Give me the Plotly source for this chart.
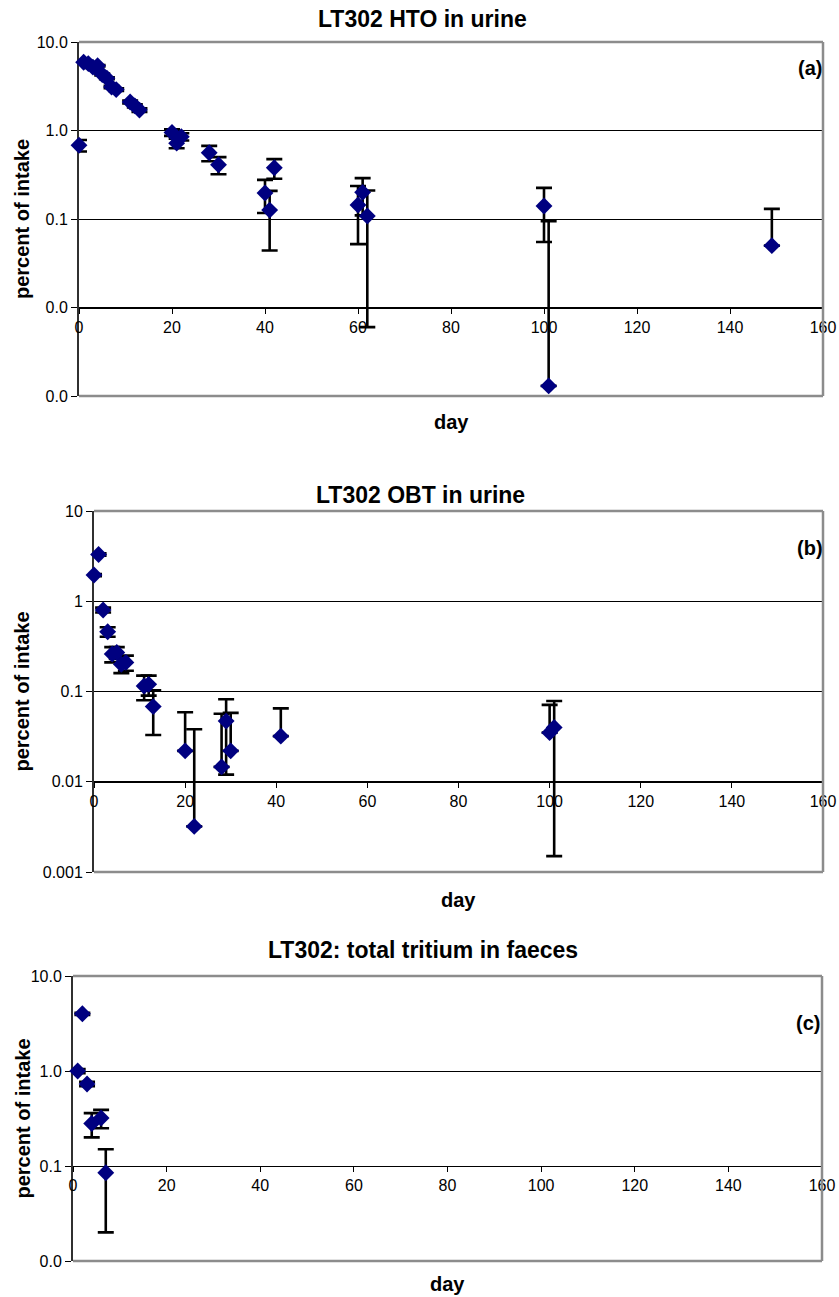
import math
import plotly.graph_objects as go

# ---------------- data ----------------
# (a) LT302 HTO in urine
days_a = [0, 1, 2, 3, 4, 5, 6, 7, 8, 11, 12, 13, 20, 21, 22, 28, 30, 40, 41, 42, 60, 61, 62, 100, 101, 149]
vals_a = [0.68, 5.9, 5.7, 5.2, 5.4, 4.3, 3.9, 3.1, 2.9, 2.1, 1.9, 1.7, 0.95, 0.72, 0.85, 0.56, 0.41,
          0.197, 0.126, 0.38, 0.144, 0.20, 0.108, 0.14, 0.0013, 0.05]
errs_a = [0.1, 0.1, 0.1, 0.1, 0.1, 0.1, 0.1, 0.1, 0.1, 0.08, 0.08, 0.08, 0.08, 0.09, 0.08, 0.11, 0.09,
          0.08, 0.082, 0.095, 0.092, 0.09, 0.102, 0.085, 0.093, 0.08]

# (b) LT302 OBT in urine
days_b = [0, 1, 2, 3, 4, 5, 6, 7, 11, 12, 13, 20, 22, 28, 29, 30, 41, 100, 101]
vals_b = [1.95, 3.3, 0.8, 0.46, 0.26, 0.27, 0.20, 0.21, 0.115, 0.12, 0.068, 0.022, 0.0032, 0.0146,
          0.047, 0.022, 0.032, 0.035, 0.040]
errs_b = [0.05, 0.1, 0.05, 0.055, 0.05, 0.04, 0.04, 0.04, 0.035, 0.03, 0.035, 0.037, 0.035, 0.042,
          0.035, 0.036, 0.033, 0.036, 0.0385]

# (c) LT302: total tritium in faeces
days_c = [1, 2, 3, 4, 6, 7]
vals_c = [1.0, 4.0, 0.73, 0.28, 0.32, 0.085]
errs_c = [0.05, 0.1, 0.04, 0.08, 0.07, 0.065]

x_ticks = [0, 20, 40, 60, 80, 100, 120, 140, 160]
y_ticks_a = [10, 1, 0.1, 0.01, 0.001]
y_text_a = ["10.0", "1.0", "0.1", "0.0", "0.0"]
y_ticks_b = [10, 1, 0.1, 0.01, 0.001]
y_text_b = ["10", "1", "0.1", "0.01", "0.001"]
y_ticks_c = [10, 1, 0.1, 0.01]
y_text_c = ["10.0", "1.0", "0.1", "0.0"]

titles = ["LT302 HTO in urine", "LT302 OBT in urine", "LT302: total tritium in faeces"]
letters = ["(a)", "(b)", "(c)"]

# ---------------- layout geometry ----------------
W, H = 839, 1297
FONT = "Liberation Sans, Arial, sans-serif"
NAVY = "#000080"

panels = [
    dict(days=days_a, vals=vals_a, errs=errs_a, yt=y_ticks_a, ytt=y_text_a, yr=[-3, 1], cross=0.01,
         xpx=(79, 823), ypx=(42, 396), title_y=19, title_x=422, day_y=422, letter=(810, 68)),
    dict(days=days_b, vals=vals_b, errs=errs_b, yt=y_ticks_b, ytt=y_text_b, yr=[-3, 1], cross=0.01,
         xpx=(94, 823), ypx=(511, 872), title_y=495, title_x=420, day_y=900, letter=(810, 548)),
    dict(days=days_c, vals=vals_c, errs=errs_c, yt=y_ticks_c, ytt=y_text_c, yr=[-2, 1], cross=0.1,
         xpx=(73, 822), ypx=(976, 1261), title_y=950, title_x=423, day_y=1284, letter=(808, 1023)),
]

fig = go.Figure()
annotations = []
shapes = []

for i, p in enumerate(panels):
    k = "" if i == 0 else str(i + 1)
    xd = [p["xpx"][0] / W, p["xpx"][1] / W]
    yd = [1 - p["ypx"][1] / H, 1 - p["ypx"][0] / H]
    frac = (math.log10(p["cross"]) - p["yr"][0]) / (p["yr"][1] - p["yr"][0])
    xpos = yd[0] + frac * (yd[1] - yd[0])

    # Excel omits the lower error bar when it would reach zero or below on a log axis
    minus = [e if v - e > 0 else 0 for v, e in zip(p["vals"], p["errs"])]

    fig.add_trace(go.Scatter(
        x=p["days"], y=p["vals"], mode="markers",
        xaxis="x" + k, yaxis="y" + k,
        marker=dict(symbol="diamond", size=13, color=NAVY, line=dict(width=0)),
        error_y=dict(type="data", array=p["errs"], arrayminus=minus, symmetric=False,
                     color="black", thickness=2.6, width=8),
        cliponaxis=False, showlegend=False, hoverinfo="skip",
    ))

    fig.layout["xaxis" + k] = dict(
        domain=xd, range=[0, 160], anchor="free", position=xpos, automargin=False,
        tickvals=x_ticks, ticks="outside", ticklen=5, tickcolor="black", tickwidth=1,
        showline=True, linecolor="black", linewidth=1, showgrid=False, zeroline=False,
        tickfont=dict(family=FONT, size=16, color="black"), layer="below traces",
    )
    fig.layout["yaxis" + k] = dict(
        domain=yd, type="log", range=p["yr"], anchor="x" + k, automargin=False,
        tickvals=p["yt"], ticktext=p["ytt"], ticks="outside", ticklen=6, tickcolor="black",
        showline=True, linecolor="#303030", linewidth=2, showgrid=True, gridcolor="black",
        gridwidth=1, zeroline=False, tickfont=dict(family=FONT, size=16, color="black"),
        layer="below traces",
    )

    # grey plot-area frame (top, right, bottom)
    for (x0, y0, x1, y1) in [(0, 1, 1, 1), (1, 0, 1, 1), (0, 0, 1, 0)]:
        shapes.append(dict(type="line", xref="x%s domain" % k, yref="y%s domain" % k,
                           x0=x0, y0=y0, x1=x1, y1=y1,
                           line=dict(color="#8c8c8c", width=2.5), layer="above"))

    annotations.append(dict(text="<b>%s</b>" % titles[i], xref="paper", yref="paper",
                            x=p["title_x"] / W, y=1 - p["title_y"] / H, showarrow=False,
                            xanchor="center", yanchor="middle",
                            font=dict(family=FONT, size=23, color="black")))
    annotations.append(dict(text="<b>day</b>", xref="paper", yref="paper",
                            x=(xd[0] + xd[1]) / 2, y=1 - p["day_y"] / H, showarrow=False,
                            xanchor="center", yanchor="middle",
                            font=dict(family=FONT, size=20, color="black")))
    annotations.append(dict(text="<b>percent of intake</b>", xref="paper", yref="paper",
                            x=22 / W, y=(yd[0] + yd[1]) / 2, showarrow=False, textangle=-90,
                            xanchor="center", yanchor="middle",
                            font=dict(family=FONT, size=20, color="black")))
    annotations.append(dict(text="<b>%s</b>" % letters[i], xref="paper", yref="paper",
                            x=p["letter"][0] / W, y=1 - p["letter"][1] / H, showarrow=False,
                            xanchor="center", yanchor="middle",
                            font=dict(family=FONT, size=20, color="black")))

fig.update_layout(
    width=W, height=H, margin=dict(l=0, r=0, t=0, b=0, autoexpand=False),
    paper_bgcolor="white", plot_bgcolor="white",
    annotations=annotations, shapes=shapes, showlegend=False,
)

fig.write_html(
    "out.html",
    config={"displayModeBar": False},
    post_script="document.body.style.margin='0';document.body.style.overflow='hidden';",
)
